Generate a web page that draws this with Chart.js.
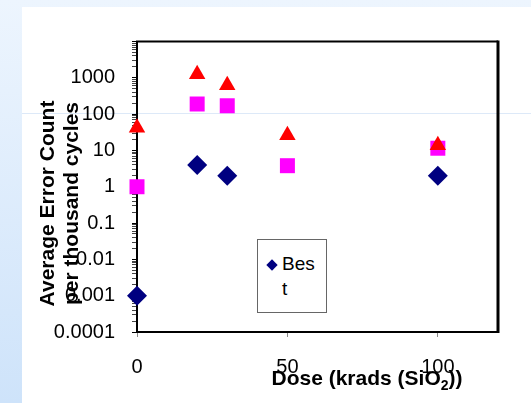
<!DOCTYPE html>
<html>
<head>
<meta charset="utf-8">
<script src="https://cdn.jsdelivr.net/npm/chart.js@4.4.0/dist/chart.umd.min.js"></script>
<style>
  body { margin: 0; }
  #wrap { position: relative; width: 531px; height: 403px; overflow: hidden;
          background: linear-gradient(#edf5fe, #cee3fa);
          font-family: 'Liberation Sans', Arial, sans-serif; }
  #panel { position: absolute; left: 22px; top: 7px; right: 0; bottom: 0; background: #fff; }
  #rule { position: absolute; left: 22px; top: 113px; right: 0; height: 1px; background: #dde9f8; }
  #chart { position: absolute; left: 0; top: 0; }
  #legend { position: absolute; left: 257px; top: 239px; width: 70px; height: 74px;
            box-sizing: border-box; border: 1px solid #666; background: #fff; }
  #legend .mk { position: absolute; left: 10px; top: 21px; width: 8px; height: 8px;
                background: #000080; transform: rotate(45deg); }
  #legend .txt { position: absolute; left: 24px; top: 12px; font-size: 19px;
                 line-height: 24.5px; color: #000; }
</style>
</head>
<body>
<div id="wrap">
  <div id="panel"></div>
  <div id="rule"></div>
  <canvas id="chart" width="531" height="403"></canvas>
  <div id="legend"><span class="mk"></span><div class="txt">Bes<br>t</div></div>
</div>
<script>
// dose in krads (SiO2), error count per thousand cycles
const doseBest = [0, 20, 30, 100]
const errBest = [0.001, 4, 2, 2]

const doseSquare = [0, 20, 30, 50, 100]
const errSquare = [1, 190, 170, 3.8, 11.5]

const doseTriangle = [0, 20, 30, 50, 100]
const errTriangle = [42, 1250, 620, 26, 14]

const xTicks = [0, 50, 100]
const yTicks = [0.0001, 0.001, 0.01, 0.1, 1, 10, 100, 1000, 10000]
const yTickLabels = ['0.0001', '0.001', '0.01', '0.1', '1', '10', '100', '1000', '']

// minor ticks 2..9 inside every decade
var yAllTicks = []
for (var i = 0; i < yTicks.length - 1; i++) {
  for (var m = 1; m <= 9; m++) yAllTicks.push(m * yTicks[i])
}
yAllTicks.push(yTicks[yTicks.length - 1])

function pts(xs, ys) {
  return xs.map((x, i) => ({x: x, y: ys[i]}))
}

const FONT = "'Liberation Sans', Arial, sans-serif"
Chart.defaults.font.family = FONT
Chart.defaults.color = '#000'

const frameAndTitles = {
  id: 'frameAndTitles',
  beforeDatasetsDraw(chart) {
    const ctx = chart.ctx, a = chart.chartArea
    ctx.save()
    ctx.strokeStyle = '#000'
    ctx.lineWidth = 2
    ctx.beginPath()
    ctx.moveTo(a.left - 1, a.top)
    ctx.lineTo(a.right, a.top)
    ctx.stroke()
    ctx.lineWidth = 3
    ctx.beginPath()
    ctx.moveTo(a.right, a.top - 1)
    ctx.lineTo(a.right, a.bottom + 1)
    ctx.stroke()
    ctx.restore()
  },
  afterDraw(chart) {
    const ctx = chart.ctx, a = chart.chartArea
    ctx.save()
    ctx.fillStyle = '#000'
    // y title, two lines
    ctx.font = 'bold 21px ' + FONT
    ctx.textAlign = 'center'
    ctx.textBaseline = 'alphabetic'
    ctx.translate(54, a.top + 162)
    ctx.rotate(-Math.PI / 2)
    ctx.fillText('Average Error Count', 0, 0)
    ctx.fillText('per thousand cycles', 0, 24)
    ctx.restore()

    // x title with subscript
    ctx.save()
    ctx.fillStyle = '#000'
    ctx.textAlign = 'left'
    ctx.textBaseline = 'alphabetic'
    var p1 = 'Dose (krads (SiO', sub = '2', p2 = '))'
    ctx.font = 'bold 21px ' + FONT
    var w1 = ctx.measureText(p1).width, w2 = ctx.measureText(p2).width
    ctx.font = 'bold 14px ' + FONT
    var ws = ctx.measureText(sub).width
    var x = a.left + 230 - (w1 + ws + w2) / 2
    var by = a.bottom + 53
    ctx.font = 'bold 21px ' + FONT
    ctx.fillText(p1, x, by)
    ctx.font = 'bold 14px ' + FONT
    ctx.fillText(sub, x + w1, by + 5)
    ctx.font = 'bold 21px ' + FONT
    ctx.fillText(p2, x + w1 + ws, by)
    ctx.restore()
  }
}

new Chart(document.getElementById('chart'), {
  type: 'scatter',
  data: {
    datasets: [
      {
        label: 'Best',
        data: pts(doseBest, errBest),
        pointStyle: 'rectRot',
        pointRadius: 10,
        pointHoverRadius: 10,
        pointBackgroundColor: '#000080',
        pointBorderWidth: 0,
        clip: false,
        order: 2
      },
      {
        label: 'Series 2',
        data: pts(doseSquare, errSquare),
        pointStyle: 'rect',
        pointRadius: 10.6,
        pointHoverRadius: 10.6,
        pointBackgroundColor: '#ff00ff',
        pointBorderWidth: 0,
        clip: false,
        order: 1
      },
      {
        label: 'Series 3',
        data: pts(doseTriangle, errTriangle),
        pointStyle: 'triangle',
        pointRadius: 9.5,
        pointHoverRadius: 9.5,
        pointBackgroundColor: '#ff0000',
        pointBorderWidth: 0,
        clip: false,
        order: 0
      }
    ]
  },
  options: {
    responsive: false,
    animation: false,
    devicePixelRatio: 1,
    layout: {padding: {left: 0, right: 33, top: 41.5, bottom: 0}},
    plugins: {legend: {display: false}, tooltip: {enabled: false}},
    scales: {
      x: {
        type: 'linear',
        min: 0,
        max: 120,
        afterBuildTicks: s => { s.ticks = xTicks.map(v => ({value: v})) },
        afterFit: s => { s.height = 71 },
        grid: {drawOnChartArea: false, tickLength: 5, tickColor: '#888'},
        border: {color: '#000', width: 2},
        ticks: {autoSkip: false, maxRotation: 0, padding: 18, color: '#000', font: {size: 20}}
      },
      y: {
        type: 'logarithmic',
        min: 0.0001,
        max: 10000,
        afterBuildTicks: s => { s.ticks = yAllTicks.map(v => ({value: v})) },
        afterFit: s => { s.width = 137 },
        grid: {
          drawOnChartArea: false,
          tickLength: 5,
          tickColor: c => yTicks.indexOf(c.tick && c.tick.value) >= 0 ? '#000' : '#444'
        },
        border: {color: '#000', width: 2},
        ticks: {
          autoSkip: false,
          padding: 17,
          color: '#000',
          font: {size: 20},
          callback: function (v) {
            var k = yTicks.indexOf(v)
            return k >= 0 ? yTickLabels[k] : ''
          }
        }
      }
    }
  },
  plugins: [frameAndTitles]
})
</script>
</body>
</html>
